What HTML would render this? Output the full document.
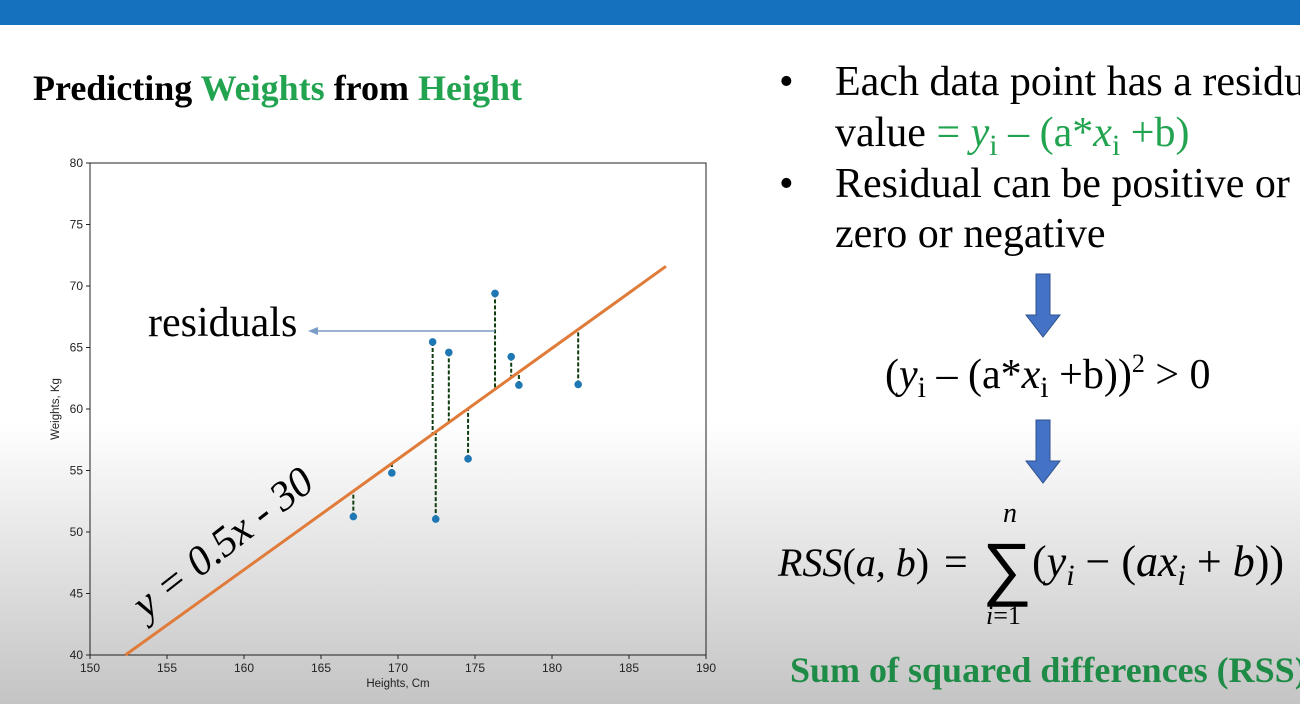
<!DOCTYPE html>
<html><head><meta charset="utf-8"><style>
html,body{margin:0;padding:0;width:1300px;height:704px;overflow:hidden}
svg{display:block}
.serif{font-family:"Liberation Serif","DejaVu Serif",serif}
.sans{font-family:"Liberation Sans","DejaVu Sans",sans-serif}
</style></head><body>
<svg id="s" width="1300" height="704" viewBox="0 0 1300 704" xmlns="http://www.w3.org/2000/svg">
<defs>
<linearGradient id="bg" x1="0" y1="0" x2="0" y2="1">
<stop offset="0" stop-color="#ffffff"/><stop offset="0.6" stop-color="#ffffff"/><stop offset="1" stop-color="#c4c4c4"/>
</linearGradient>
</defs>
<rect width="1300" height="704" fill="url(#bg)"/>
<rect width="1300" height="25" fill="#1570be"/>
<text x="33" y="100" class="serif" font-size="36" font-weight="bold">Predicting <tspan fill="#22a350">Weights</tspan> from <tspan fill="#22a350">Height</tspan></text>

<g id="chart">
<rect x="90" y="163" width="616" height="492" fill="none" stroke="#222" stroke-width="1"/>
<g id="xt"></g>
<g id="yt"></g>
<text x="398" y="687" text-anchor="middle" class="sans" font-size="11.5" fill="#222">Heights, Cm</text>
<text transform="translate(59,409) rotate(-90)" text-anchor="middle" class="sans" font-size="11.5" fill="#222">Weights, Kg</text>
<g id="res"></g>
<g id="fit"></g>
<g id="pts"></g>
</g>

<text x="148" y="336" class="serif" font-size="42">residuals</text>
<line x1="495" y1="331" x2="316" y2="331" stroke="#7a9cc6" stroke-width="1.5"/>
<polygon points="308,331 318,327 318,335" fill="#7a9cc6"/>
<text transform="translate(146,620) rotate(-38)" class="serif" font-size="42" font-style="italic">y = 0.5x - 30</text>

<g class="serif" font-size="42">
<text x="779" y="95">•</text>
<text x="835" y="95">Each data point has a residual</text>
<text x="835" y="146">value <tspan fill="#22a350">= <tspan font-style="italic">y</tspan><tspan font-size="30" dy="9">i</tspan><tspan dy="-9"> – (a*</tspan><tspan font-style="italic">x</tspan><tspan font-size="30" dy="9">i</tspan><tspan dy="-9"> +b)</tspan></tspan></text>
<text x="779" y="197">•</text>
<text x="835" y="197">Residual can be positive or</text>
<text x="835" y="247">zero or negative</text>
</g>
<polygon points="1036,274 1050,274 1050,315 1060,315 1043,337 1026,315 1036,315" fill="#4472c4" stroke="#2f528f" stroke-width="1"/>
<polygon points="1036,420 1050,420 1050,461 1060,461 1043,483 1026,461 1036,461" fill="#4472c4" stroke="#2f528f" stroke-width="1"/>
<text x="885" y="388" class="serif" font-size="42">(<tspan font-style="italic">y</tspan><tspan font-size="30" dy="9">i</tspan><tspan dy="-9"> – (a*</tspan><tspan font-style="italic">x</tspan><tspan font-size="30" dy="9">i</tspan><tspan dy="-9"> +b))</tspan><tspan font-size="26" dy="-16">2</tspan><tspan dy="16">    &gt; 0</tspan></text>

<g>
<text x="778" y="576" class="serif" font-size="40" font-style="italic">RSS<tspan font-style="normal">(</tspan>a, b<tspan font-style="normal">)</tspan></text>
<text x="944" y="576" class="serif" font-size="42">=</text>
<text x="982" y="592" class="sans" font-size="70">∑</text>
<text x="1003" y="522" class="serif" font-size="28" font-style="italic">n</text>
<text x="986" y="624" class="serif" font-size="26" font-style="italic">i<tspan font-style="normal">=1</tspan></text>
<text x="1032" y="576" class="serif" font-size="44">(<tspan font-style="italic">y</tspan><tspan font-style="italic" font-size="30" dy="9">i</tspan><tspan dy="-9">  −  (</tspan><tspan font-style="italic">ax</tspan><tspan font-style="italic" font-size="30" dy="9">i</tspan><tspan dy="-9"> + </tspan><tspan font-style="italic">b</tspan>))</text>
</g>
<text x="790" y="682" class="serif" font-size="36" font-weight="bold" fill="#1e8c46">Sum of squared differences (RSS)</text>
</svg>
<script>
const xTicks=[150,155,160,165,170,175,180,185,190];
const yTicks=[40,45,50,55,60,65,70,75,80];
const heights=[167.1,169.6,172.25,172.45,173.3,174.55,176.3,177.35,177.85,181.7];
const weights=[51.25,54.8,65.45,51.05,64.6,55.95,69.4,64.25,61.95,62.0];
const fitX=[152.3,187.4];
const fitY=[40,71.6];
const NS="http://www.w3.org/2000/svg";
const X=v=>90+(v-150)*616/40;
const Y=v=>655-(v-40)*492/40;
const fitAt=x=>fitY[0]+(fitY[1]-fitY[0])*(x-fitX[0])/(fitX[1]-fitX[0]);
function mk(tag,attrs,parent){const e=document.createElementNS(NS,tag);for(const k in attrs)e.setAttribute(k,attrs[k]);document.getElementById(parent).appendChild(e);return e;}
xTicks.forEach(t=>{
 const l=mk('line',{x1:X(t),x2:X(t),y1:655,y2:659,stroke:'#222'},'xt');
 
 
 const tx=mk('text',{x:X(t),y:672,'text-anchor':'middle','font-size':12,'font-family':'Liberation Sans, sans-serif',fill:'#222'},'xt');
 tx.textContent=t;
 
 
});
yTicks.forEach(t=>{
 const l=mk('line',{x1:86,x2:90,y1:Y(t),y2:Y(t),stroke:'#222'},'yt');
 
 
 const tx=mk('text',{x:83,y:Y(t)+4,'text-anchor':'end','font-size':12,'font-family':'Liberation Sans, sans-serif',fill:'#222'},'yt');
 tx.textContent=t;
 
 
});
const fl=mk('line',{x1:X(fitX[0]),y1:Y(fitY[0]),x2:X(fitX[1]),y2:Y(fitY[1]),stroke:'#e07b39','stroke-width':3},'fit');


heights.forEach((h,i)=>{
 const w=weights[i];
 const r=mk('line',{x1:X(h),x2:X(h),y1:Y(w),y2:Y(fitAt(h)),stroke:'#0f3d0f','stroke-width':2,'stroke-dasharray':'4,2'},'res');
 
 
 const c=mk('circle',{cx:X(h),cy:Y(w),r:3.8,fill:'#1f77b4'},'pts');
 
 
});
</script>
</body></html>
